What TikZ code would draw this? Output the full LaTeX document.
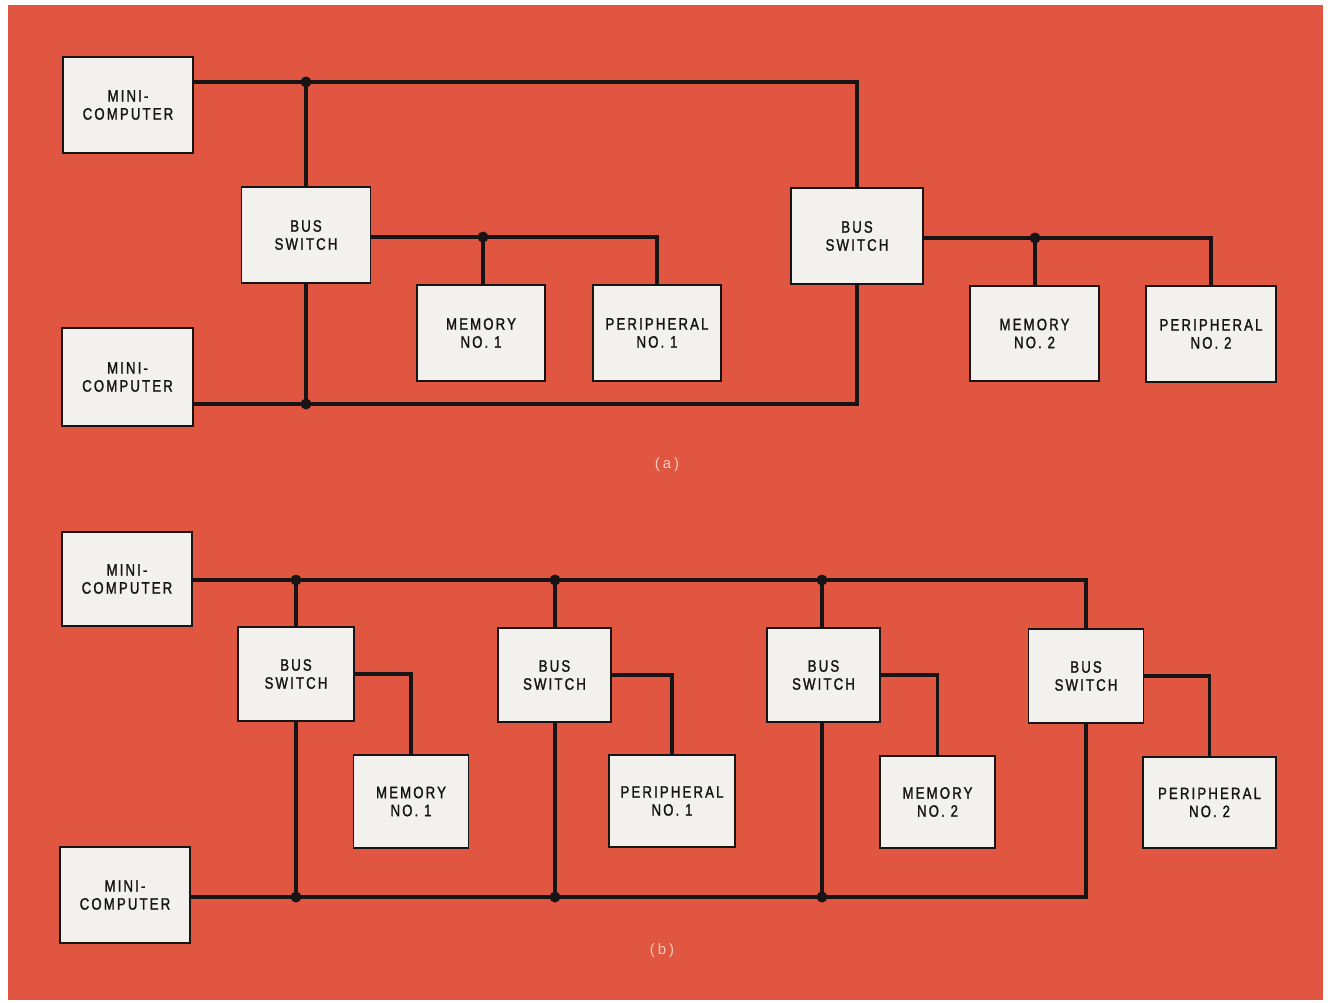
\documentclass[tikz,border=0pt]{standalone}
\usepackage{fontspec}
\usepackage{tikz}
\usetikzlibrary{positioning,calc}
\newfontfamily\unitfont{Liberation Sans}[FakeStretch=0.8,LetterSpace=13,FakeBold=1.5]
\newfontfamily\capfont{Liberation Sans}[LetterSpace=20]
\definecolor{sheet}{RGB}{224,86,64}
\definecolor{boxfill}{RGB}{243,241,238}
\definecolor{ink}{RGB}{22,20,20}
\definecolor{capink}{RGB}{248,204,192}

\begin{document}
\begin{tikzpicture}[x=1pt,y=-1pt,
   unitbox/.style 2 args={draw=ink,fill=boxfill,line width=1.5pt,
     minimum width=#1,minimum height=#2,inner sep=0pt,align=center,
     text=ink,font=\unitfont\fontsize{16.5}{18}\selectfont},
   bus/.style={draw=ink,line width=3.6pt},
   junction/.style={fill=ink}]
  \useasboundingbox (0,0) rectangle (1330,1002);
  \fill[white] (0,0) rectangle (1330,1002);
  \fill[sheet] (8,5) rectangle (1323,1000);

  % (a)
  \node[unitbox={130pt}{96pt}] (mca1) at (128,105) {MINI-\\COMPUTER};
  \node[unitbox={131pt}{98pt}] (mca2) at (127.5,377) {MINI-\\COMPUTER};
  \node[unitbox={129pt}{96pt}] (bsa1) at (306,235) {BUS\\SWITCH};
  \node[unitbox={132pt}{96pt}] (bsa2) at (857,236) {BUS\\SWITCH};
  \node[unitbox={128pt}{96pt}] (mema1) at (481,333) {MEMORY\\NO. 1};
  \node[unitbox={128pt}{96pt}] (pera1) at (657,333) {PERIPHERAL\\NO. 1};
  \node[unitbox={129pt}{95pt}] (mema2) at (1034.5,333.5) {MEMORY\\NO. 2};
  \node[unitbox={130pt}{96pt}] (pera2) at (1211,334) {PERIPHERAL\\NO. 2};
  \coordinate (ja1) at (306,82);
  \coordinate (ja2) at (306,404);
  \coordinate (ja3) at (483,237);
  \coordinate (ja4) at (1035,238);
  \draw[bus] (mca1.east |- ja1) -- (ja1) -| (bsa2.north);
  \draw[bus] (ja1) -- (bsa1.north);
  \draw[bus] (mca2.east |- ja2) -- (ja2) -| (bsa2.south);
  \draw[bus] (ja2) -- (bsa1.south);
  \draw[bus] (bsa1.east |- ja3) -- (ja3) -| (pera1.north);
  \draw[bus] (ja3) -- (ja3 |- mema1.north);
  \draw[bus] (bsa2.east |- ja4) -- (ja4) -| (pera2.north);
  \draw[bus] (ja4) -- (ja4 |- mema2.north);
  \foreach \j in {ja1,ja2,ja3,ja4}
    \fill[junction] (\j) circle (5.5pt);
  \node[text=capink,font=\capfont\fontsize{15}{17}\selectfont] (capa) at (667,465) {(a)};

  % (b)
  \node[unitbox={130pt}{94pt}] (mcb1) at (127,579) {MINI-\\COMPUTER};
  \node[unitbox={130pt}{96pt}] (mcb2) at (125,895) {MINI-\\COMPUTER};
  \node[unitbox={116pt}{94pt}] (bsb1) at (296,674) {BUS\\SWITCH};
  \node[unitbox={113pt}{94pt}] (bsb2) at (554.5,675) {BUS\\SWITCH};
  \node[unitbox={113pt}{94pt}] (bsb3) at (823.5,675) {BUS\\SWITCH};
  \node[unitbox={115pt}{94pt}] (bsb4) at (1086,676) {BUS\\SWITCH};
  \node[unitbox={115pt}{93pt}] (memb1) at (411,801.5) {MEMORY\\NO. 1};
  \node[unitbox={126pt}{92pt}] (perb1) at (672,801) {PERIPHERAL\\NO. 1};
  \node[unitbox={115pt}{92pt}] (memb2) at (937.5,802) {MEMORY\\NO. 2};
  \node[unitbox={133pt}{91pt}] (perb2) at (1209.5,802.5) {PERIPHERAL\\NO. 2};
  \coordinate (jt1) at (296,580);
  \coordinate (jt2) at (555,580);
  \coordinate (jt3) at (822,580);
  \coordinate (jb1) at (296,897);
  \coordinate (jb2) at (555,897);
  \coordinate (jb3) at (822,897);
  \draw[bus] (mcb1.east |- jt1) -- (jt1) -- (jt2) -- (jt3) -| (bsb4.north);
  \draw[bus] (mcb2.east |- jb1) -- (jb1) -- (jb2) -- (jb3) -| (bsb4.south);
  \foreach \k in {1,2,3} {
    \draw[bus] (jt\k) -- (jt\k |- bsb\k.north);
    \draw[bus] (jb\k) -- (jb\k |- bsb\k.south);
  }
  \draw[bus] (bsb1.east) -| (memb1.north);
  \draw[bus] (bsb2.east) -| (perb1.north);
  \draw[bus] (bsb3.east) -| (memb2.north);
  \draw[bus] (bsb4.east) -| (perb2.north);
  \foreach \j in {jt1,jt2,jt3,jb1,jb2,jb3}
    \fill[junction] (\j) circle (5.5pt);
  \node[text=capink,font=\capfont\fontsize{15}{17}\selectfont] (capb) at (662,951) {(b)};
\end{tikzpicture}
\end{document}
